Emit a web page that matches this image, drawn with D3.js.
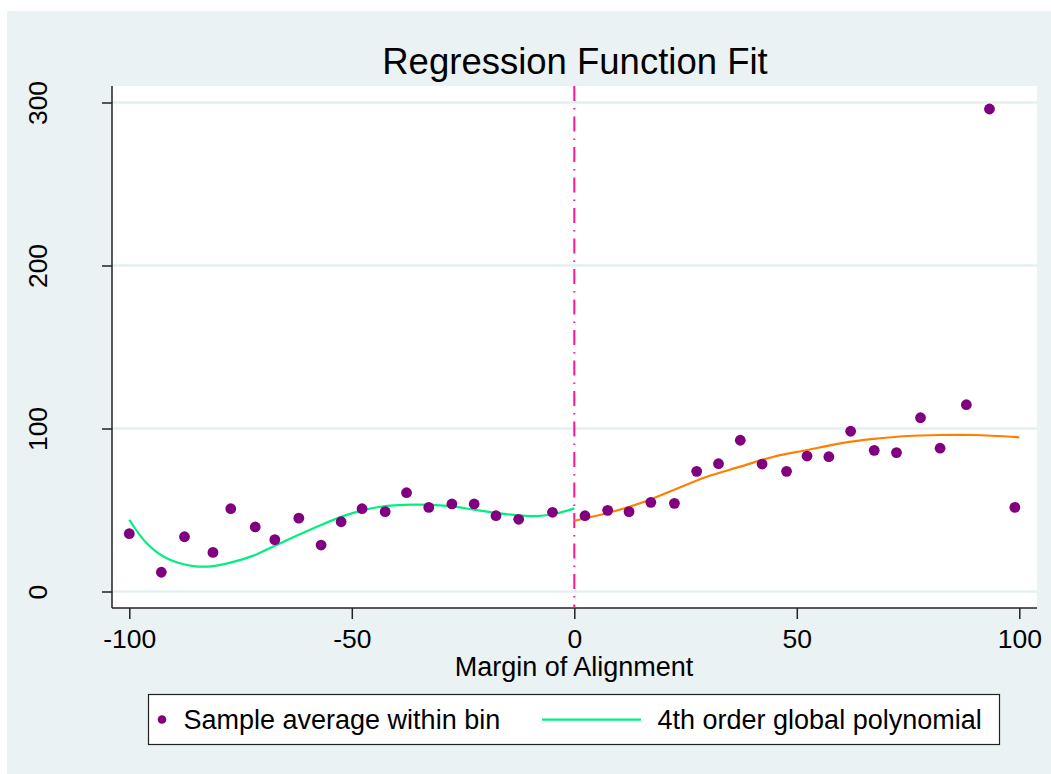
<!DOCTYPE html>
<html lang="en">
<head>
    <meta charset="UTF-8">
    <title>Regression Function Fit</title>
    <script src="https://d3js.org/d3.v7.min.js"></script>
    <style>
        body { margin: 0; background: #fff; }
        text { font-family: "Liberation Sans", Arial, sans-serif; fill: #000; }
    </style>
</head>
<body>
    <script>
        // bin averages (margin of alignment, mean outcome)
        const binX = [-100, -92.8, -87.6, -81.2, -77.2, -71.7, -67.3, -61.9, -56.9, -52.4,
                      -47.7, -42.5, -37.7, -32.7, -27.5, -22.5, -17.6, -12.5, -4.9,
                      2.4, 7.5, 12.3, 17.2, 22.5, 27.5, 32.4, 37.3, 42.2, 47.7,
                      52.3, 57.2, 62.1, 67.4, 72.4, 77.8, 82.2, 88.1, 93.3, 99.0];
        const binY = [35.5, 11.8, 33.6, 24, 50.8, 39.6, 31.8, 45, 28.5, 42.8,
                      50.8, 49, 60.6, 51.6, 53.7, 53.7, 46.5, 44.3, 48.6,
                      46.5, 49.8, 49, 54.7, 54.1, 73.7, 78.4, 92.8, 78.2, 73.7,
                      83.1, 82.7, 98.3, 86.6, 85.2, 106.6, 87.9, 114.6, 296, 51.6];

        // fitted polynomial, left of cutoff
        const polyLeftX = [-100, -96.1, -91.6, -85.6, -81.1, -77.3, -72.1, -66.1, -58.6,
                           -51.1, -43.6, -36.1, -28.6, -21.1, -13.6, -8.4, -3.9, 0];
        const polyLeftY = [44, 29.6, 20.4, 15.6, 15.6, 17.7, 22, 29.6, 38.8,
                           47, 52, 53.3, 52.5, 49.6, 47, 46.3, 48, 51];

        // fitted polynomial, right of cutoff
        const polyRightX = [0, 7.3, 14.8, 22.3, 29.8, 37.3, 44.8, 52.3, 59.8, 67.3, 74.8, 82.2, 89.7, 100];
        const polyRightY = [43.4, 48, 54.1, 62.3, 70.4, 76.6, 82.7, 86.8, 90.9, 93.6, 95.4, 96, 96, 94.6];

        const xTicks = [-100, -50, 0, 50, 100];
        const yTicks = [0, 100, 200, 300];
        const cutoff = 0;

        const W = 1051, H = 774;
        const plot = {left: 112, top: 86, right: 1037, bottom: 608};

        const svg = d3.select('body').append('svg')
            .attr('width', W)
            .attr('height', H);

        svg.append('rect')
            .attr('x', 7).attr('y', 11)
            .attr('width', W - 7).attr('height', H - 11)
            .attr('fill', '#eaf2f3');

        svg.append('rect')
            .attr('x', plot.left).attr('y', plot.top)
            .attr('width', plot.right - plot.left)
            .attr('height', plot.bottom - plot.top)
            .attr('fill', '#fff');

        const x = d3.scaleLinear().domain([-100, 100]).range([129.3, 1019.3]);
        const y = d3.scaleLinear().domain([0, 300]).range([591.5, 102.5]);

        // gridlines
        svg.append('g')
            .selectAll('line')
            .data(yTicks)
            .join('line')
            .attr('x1', plot.left).attr('x2', plot.right)
            .attr('y1', d => y(d)).attr('y2', d => y(d))
            .attr('stroke', '#e6eff0')
            .attr('stroke-width', 2.5);

        // y axis
        const yAxis = svg.append('g')
            .attr('transform', `translate(${plot.left},0)`)
            .call(d3.axisLeft(y).tickValues(yTicks).tickFormat(d => String(d)).tickSize(10).tickSizeOuter(0));
        yAxis.select('.domain').remove();
        yAxis.selectAll('.tick line').attr('stroke', '#222').attr('stroke-width', 1.5);
        yAxis.selectAll('.tick text')
            .attr('x', 0).attr('y', -65.5).attr('dy', null)
            .attr('transform', 'rotate(-90)')
            .style('text-anchor', 'middle')
            .style('font-size', '26.5px')
            .style('font-family', '"Liberation Sans", Arial, sans-serif');
        svg.append('line')
            .attr('x1', plot.left).attr('x2', plot.left)
            .attr('y1', plot.top).attr('y2', plot.bottom)
            .attr('stroke', '#222').attr('stroke-width', 1.5);

        // x axis (plain hyphen for negatives, as in the original)
        const xAxis = svg.append('g')
            .attr('transform', `translate(0,${plot.bottom})`)
            .call(d3.axisBottom(x).tickValues(xTicks).tickFormat(d => String(d)).tickSize(11).tickSizeOuter(0));
        xAxis.select('.domain').remove();
        xAxis.selectAll('.tick line').attr('stroke', '#222').attr('stroke-width', 1.5);
        xAxis.selectAll('.tick text')
            .attr('y', 39.5).attr('dy', null)
            .style('font-size', '26.5px')
            .style('font-family', '"Liberation Sans", Arial, sans-serif');
        svg.append('line')
            .attr('x1', plot.left).attr('x2', plot.right)
            .attr('y1', plot.bottom).attr('y2', plot.bottom)
            .attr('stroke', '#222').attr('stroke-width', 1.5);

        // cutoff line
        svg.append('line')
            .attr('x1', x(cutoff)).attr('x2', x(cutoff))
            .attr('y1', plot.top).attr('y2', plot.bottom)
            .attr('stroke', '#ff1493')
            .attr('stroke-width', 2)
            .attr('stroke-dasharray', '15,7,1.5,7');

        // fitted curves
        const line = d3.line()
            .x(d => x(d[0]))
            .y(d => y(d[1]))
            .curve(d3.curveCatmullRom);

        svg.append('path')
            .datum(d3.zip(polyLeftX, polyLeftY))
            .attr('d', line)
            .attr('fill', 'none')
            .attr('stroke', '#00f080')
            .attr('stroke-width', 2.2);

        svg.append('path')
            .datum(d3.zip(polyRightX, polyRightY))
            .attr('d', line)
            .attr('fill', 'none')
            .attr('stroke', '#ff8000')
            .attr('stroke-width', 2.2);

        // bin averages
        svg.append('g')
            .selectAll('circle')
            .data(d3.zip(binX, binY))
            .join('circle')
            .attr('cx', d => x(d[0]))
            .attr('cy', d => y(d[1]))
            .attr('r', 5.4)
            .attr('fill', '#800080');

        // title
        svg.append('text')
            .attr('x', 575).attr('y', 74)
            .attr('text-anchor', 'middle')
            .style('font-size', '36.5px')
            .text('Regression Function Fit');

        svg.append('text')
            .attr('x', 574).attr('y', 676)
            .attr('text-anchor', 'middle')
            .style('font-size', '27px')
            .text('Margin of Alignment');

        // legend
        const legend = svg.append('g');
        legend.append('rect')
            .attr('x', 148.5).attr('y', 694.5)
            .attr('width', 851).attr('height', 50)
            .attr('fill', '#fff')
            .attr('stroke', '#222')
            .attr('stroke-width', 1.2);
        legend.append('circle')
            .attr('cx', 162).attr('cy', 719.5)
            .attr('r', 4.3)
            .attr('fill', '#800080');
        legend.append('text')
            .attr('x', 183.5).attr('y', 729)
            .style('font-size', '27px')
            .text('Sample average within bin');
        legend.append('line')
            .attr('x1', 542).attr('x2', 641)
            .attr('y1', 719.7).attr('y2', 719.7)
            .attr('stroke', '#00f080')
            .attr('stroke-width', 2.2);
        legend.append('text')
            .attr('x', 657.5).attr('y', 729)
            .style('font-size', '27px')
            .text('4th order global polynomial');
    </script>
</body>
</html>
